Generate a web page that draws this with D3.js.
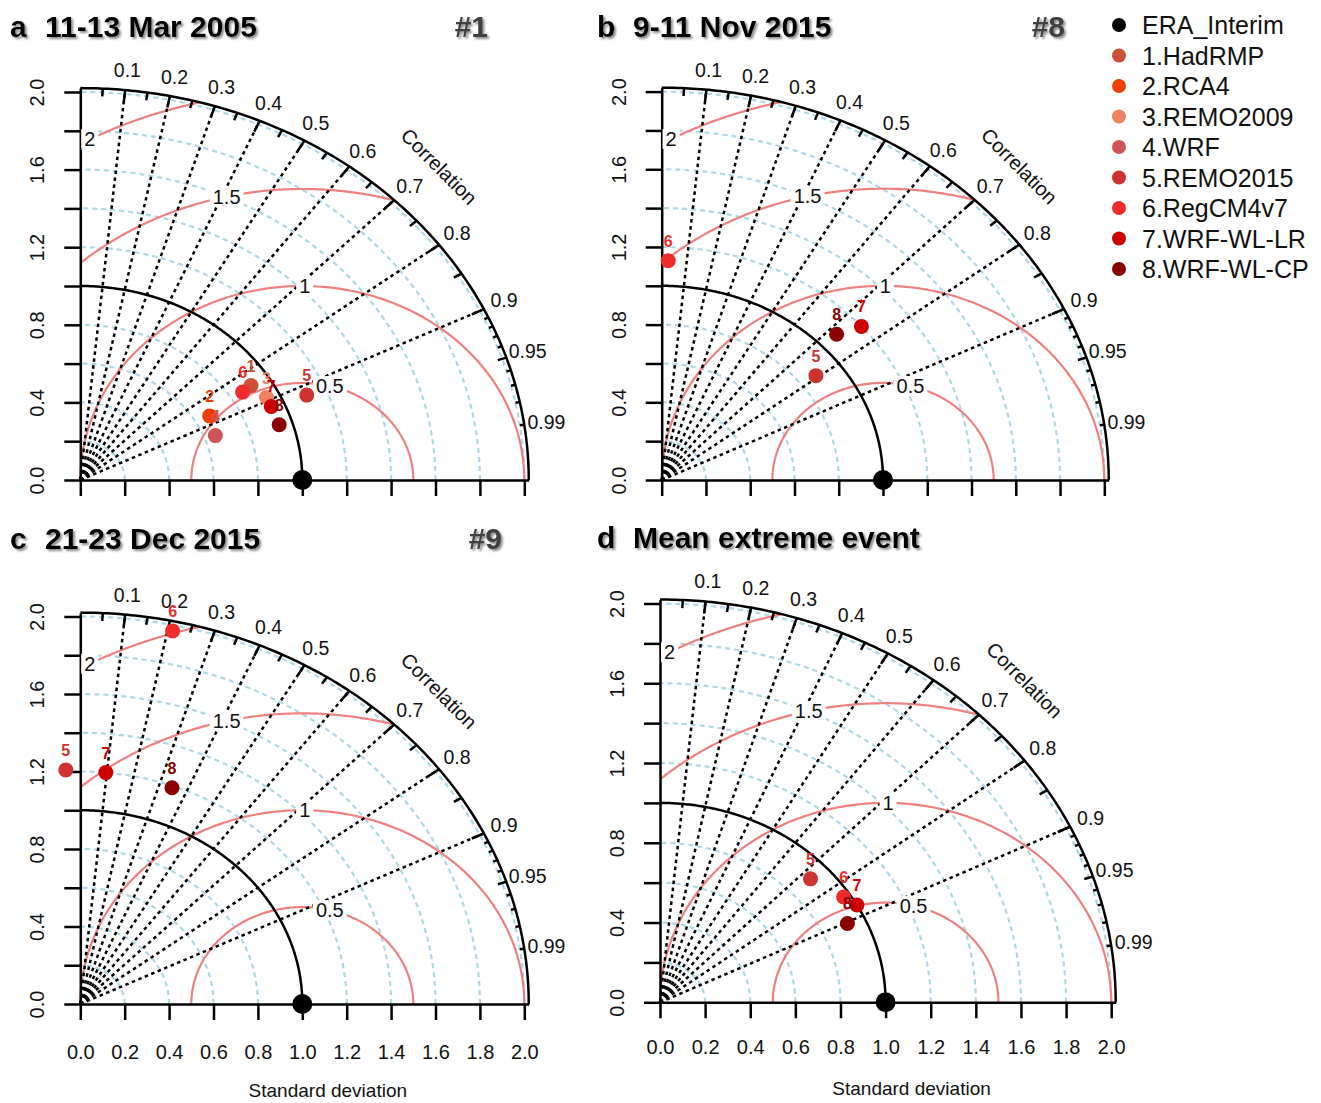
<!DOCTYPE html>
<html>
<head>
<meta charset="utf-8">
<script src="https://cdn.jsdelivr.net/npm/d3@7"></script>
<style>
  body { margin: 0; background: #fff; }
  svg { font-family: "Liberation Sans", Arial, Helvetica, sans-serif; }
  .axis path, .axis line { stroke: #000; stroke-width: 2.5; }
  .axis text { font-size: 20px; fill: #111; }
</style>
</head>
<body>
<svg id="chart" width="1321" height="1103"></svg>
<script>

// Models (legend order) and their colours
const refName = "ERA_Interim";
const models = ["1.HadRMP", "2.RCA4", "3.REMO2009", "4.WRF", "5.REMO2015", "6.RegCM4v7", "7.WRF-WL-LR", "8.WRF-WL-CP"];
const modelColors = ["#cd4f39", "#ee4000", "#ee8262", "#cd5555", "#cd3333", "#ee2c2c", "#cd0000", "#8b0000"];

// Panel titles
const panelLetters = ["a", "b", "c", "d"];
const panelTitles = ["11-13 Mar 2005", "9-11 Nov 2015", "21-23 Dec 2015", "Mean extreme event"];
const eventIds = ["#1", "#8", "#9", ""];

// Normalised standard deviation and correlation per model (null = model not run for this event)
const sdMar2005  = [0.91, 0.67, 0.94, 0.65, 1.11, 0.86, 0.94, 0.94];
const corMar2005 = [0.845, 0.87, 0.892, 0.936, 0.919, 0.85, 0.915, 0.953];
const sdNov2015  = [null, null, null, null, 0.88, 1.13, 1.20, 1.09];
const corNov2015 = [null, null, null, null, 0.792, 0.026, 0.752, 0.725];
const sdDec2015  = [null, null, null, null, 1.21, 1.97, 1.20, 1.19];
const corDec2015 = [null, null, null, null, -0.054, 0.211, 0.096, 0.347];
const sdMean     = [null, null, null, null, 0.91, 0.97, 1.00, 0.92];
const corMean    = [null, null, null, null, 0.733, 0.839, 0.873, 0.903];

// Reference (observations)
const refSd = 1.0;

// Diagram grid values
const sdTicks = [0, 0.2, 0.4, 0.6, 0.8, 1.0, 1.2, 1.4, 1.6, 1.8, 2.0];
const sdArcs = [0.2, 0.4, 0.6, 0.8, 1.2, 1.4, 1.6, 1.8, 2.0];
const rmsContours = [0.5, 1, 1.5, 2];
const corLines = [0.1, 0.2, 0.3, 0.4, 0.5, 0.6, 0.7, 0.8, 0.9];
const corLabels = [0.1, 0.2, 0.3, 0.4, 0.5, 0.6, 0.7, 0.8, 0.9, 0.95, 0.99];
const corMedTicks = [0.05, 0.15, 0.25, 0.35, 0.45, 0.55, 0.65, 0.75, 0.85, 0.95];
const corSmallTicks = [0.91, 0.92, 0.93, 0.94, 0.96, 0.97, 0.98, 0.99];

const MAXSD = 2.02;

const panelSd = [sdMar2005, sdNov2015, sdDec2015, sdMean];
const panelCor = [corMar2005, corNov2015, corDec2015, corMean];

// Where each panel sits on the page (the original was stretched, so x and y scales differ)
const layout = [
    {ox: 80.3,  oy: 480,    sx: 222,   sy: 194,    letterX: 10,  titleX: 45,  titleY: 37,  idX: 488,  xLabels: false, pad: 26},
    {ox: 661.7, oy: 480,    sx: 221.3, sy: 194.2,  letterX: 597, titleX: 633, titleY: 37,  idX: 1065, xLabels: false, pad: 26},
    {ox: 80.3,  oy: 1004,   sx: 222,   sy: 193.75, letterX: 10,  titleX: 45,  titleY: 549, idX: 502,  xLabels: true,  pad: 25},
    {ox: 660,   oy: 1002.3, sx: 225.6, sy: 199.4,  letterX: 597, titleX: 633, titleY: 548, idX: null, xLabels: true,  pad: 22}
];

const svg = d3.select("#chart");

// Soft grey shadow used by the panel titles
let shadow = svg.append("defs").append("filter")
    .attr("id", "shadow")
    .attr("x", "-10%").attr("y", "-30%")
    .attr("width", "130%").attr("height", "170%");
shadow.append("feDropShadow")
    .attr("dx", 2).attr("dy", 2)
    .attr("stdDeviation", 1.3)
    .attr("flood-color", "#666")
    .attr("flood-opacity", 0.75);

function drawPanel(p, k) {
    let sd = panelSd[k];
    let cor = panelCor[k];

    let x = d3.scaleLinear().domain([0, MAXSD]).range([p.ox, p.ox + MAXSD * p.sx]);
    let y = d3.scaleLinear().domain([0, MAXSD]).range([p.oy, p.oy - MAXSD * p.sy]);
    let line = d3.line().x(d => x(d[0])).y(d => y(d[1]));

    // arc of radius r around (cx, 0), angles in radians
    let arc = function(cx, r, a0, a1) {
        let pts = d3.range(0, 181).map(function(i) {
            let a = a0 + (a1 - a0) * i / 180;
            return [cx + r * Math.cos(a), r * Math.sin(a)];
        });
        return line(pts);
    };

    let g = svg.append("g").attr("class", "panel panel-" + panelLetters[k]);

    // Standard deviation grid arcs
    g.selectAll("path.sd-arc")
        .data(sdArcs)
        .enter()
        .append("path")
            .attr("class", "sd-arc")
            .attr("d", r => arc(0, r, 0, Math.PI / 2))
            .attr("fill", "none")
            .attr("stroke", "#add8e6")
            .attr("stroke-width", 2.2)
            .attr("stroke-dasharray", "5,4");

    // Centred RMS difference contours, clipped to the quadrant
    let rmsRange = function(gm) {
        let c0 = (MAXSD * MAXSD - refSd * refSd - gm * gm) / (2 * refSd * gm);
        let a0 = c0 >= 1 ? 0 : Math.acos(Math.max(-1, c0));
        let a1 = gm < refSd ? Math.PI : Math.acos(-refSd / gm);
        return [a0, a1];
    };
    g.selectAll("path.rms")
        .data(rmsContours)
        .enter()
        .append("path")
            .attr("class", "rms")
            .attr("d", gm => { let r = rmsRange(gm); return arc(refSd, gm, r[0], r[1]); })
            .attr("fill", "none")
            .attr("stroke", "#f08080")
            .attr("stroke-width", 2.2);

    // Correlation rays
    g.selectAll("path.cor-line")
        .data(corLines)
        .enter()
        .append("path")
            .attr("class", "cor-line")
            .attr("d", c => line([[0, 0], [MAXSD * c, MAXSD * Math.sqrt(1 - c * c)]]))
            .attr("stroke", "#000")
            .attr("stroke-width", 2.5)
            .attr("stroke-dasharray", "3.5,3.5");

    // Reference sd arc and outer arc
    g.append("path")
        .attr("d", arc(0, refSd, 0, Math.PI / 2))
        .attr("fill", "none").attr("stroke", "#000").attr("stroke-width", 2.5);
    g.append("path")
        .attr("d", arc(0, MAXSD, 0, Math.PI / 2))
        .attr("fill", "none").attr("stroke", "#000").attr("stroke-width", 2.5);

    // Tick marks on the outer arc
    let tickSets = [[corLines, 0.97], [corMedTicks, 0.98], [corSmallTicks, 0.99]];
    tickSets.forEach(function(ts) {
        g.selectAll(null)
            .data(ts[0])
            .enter()
            .append("path")
                .attr("d", function(c) {
                    let s = Math.sqrt(1 - c * c);
                    return line([[MAXSD * c, MAXSD * s], [MAXSD * ts[1] * c, MAXSD * ts[1] * s]]);
                })
                .attr("stroke", "#000")
                .attr("stroke-width", 2.5);
    });

    // Correlation labels
    g.selectAll("text.cor-label")
        .data(corLabels)
        .enter()
        .append("text")
            .attr("class", "cor-label")
            .attr("x", c => x(1.05 * MAXSD * c))
            .attr("y", c => y(1.05 * MAXSD * Math.sqrt(1 - c * c)))
            .attr("dy", "0.35em")
            .attr("text-anchor", "middle")
            .style("font-size", "19.5px")
            .attr("fill", "#111")
            .text(c => c);

    g.append("text")
        .attr("transform", "translate(" + x(0.8 * MAXSD) + "," + y(0.8 * MAXSD) + ") rotate(45)")
        .attr("dy", "0.35em")
        .attr("text-anchor", "middle")
        .style("font-size", "20px")
        .attr("fill", "#111")
        .text("Correlation");

    // Axes
    let fmt = d3.format(".1f");
    let xAxis = d3.axisBottom(x)
        .tickValues(sdTicks)
        .tickSize(16).tickSizeOuter(0)
        .tickPadding(p.pad)
        .tickFormat(d => p.xLabels ? fmt(d) : "");
    let yAxis = d3.axisLeft(y)
        .tickValues(sdTicks)
        .tickSize(16).tickSizeOuter(0)
        .tickFormat(d => Math.round(d * 10) % 4 === 0 ? fmt(d) : "");

    g.append("g")
        .attr("class", "x axis")
        .attr("transform", "translate(0," + p.oy + ")")
        .call(xAxis);

    let ya = g.append("g")
        .attr("class", "y axis")
        .attr("transform", "translate(" + p.ox + ",0)")
        .call(yAxis);
    ya.selectAll("text")
        .attr("x", 0)
        .attr("y", -43)
        .attr("dy", "0.35em")
        .attr("text-anchor", "middle")
        .attr("transform", "rotate(-90)");
    g.selectAll(".axis .domain").attr("fill", "none");

    if (p.xLabels) {
        g.append("text")
            .attr("x", x(1.115))
            .attr("y", p.oy + 93)
            .attr("text-anchor", "middle")
            .style("font-size", "19px")
            .attr("fill", "#111")
            .text("Standard deviation");
    }

    // RMS labels on a white box, as boxed.labels does
    let labelAngles = rmsContours.map((gm, i) => (Math.floor(45 + i * 25 / 3) - 1) * 0.03);
    rmsContours.forEach(function(gm, i) {
        let a = labelAngles[i];
        let lx = x(refSd + gm * Math.cos(a));
        let ly = y(gm * Math.sin(a));
        let lg = g.append("g");
        let t = lg.append("text")
            .attr("x", lx).attr("y", ly)
            .attr("dy", "0.35em")
            .attr("text-anchor", "middle")
            .style("font-size", "20px")
            .attr("fill", "#111")
            .text(gm);
        let bb = t.node().getBBox();
        lg.insert("rect", "text")
            .attr("x", bb.x - 3).attr("y", bb.y + 1)
            .attr("width", bb.width + 6).attr("height", bb.height - 2)
            .attr("fill", "#fff");
    });

    // Reference point
    g.append("circle")
        .attr("cx", x(refSd)).attr("cy", y(0))
        .attr("r", 10)
        .attr("fill", "#000");

    // Model points and their numbers
    let pts = models.map((m, i) => ({i: i, sd: sd[i], cor: cor[i]}))
        .filter(d => d.sd !== null);
    let px = d => x(d.sd * d.cor);
    let py = d => y(d.sd * Math.sqrt(1 - d.cor * d.cor));

    let pg = g.selectAll("g.model")
        .data(pts)
        .enter()
        .append("g")
            .attr("class", "model");
    pg.append("circle")
        .attr("cx", px).attr("cy", py)
        .attr("r", 7.5)
        .attr("fill", d => modelColors[d.i]);
    pg.append("text")
        .attr("x", px).attr("y", d => py(d) - 14)
        .attr("text-anchor", "middle")
        .style("font-size", "16px")
        .style("font-weight", "bold")
        .attr("fill", d => modelColors[d.i])
        .text(d => d.i + 1);

    // Title
    let tg = svg.append("g")
        .attr("class", "title")
        .attr("filter", "url(#shadow)")
        .style("font-weight", "bold")
        .style("font-size", "30px");
    tg.append("text")
        .attr("x", p.letterX).attr("y", p.titleY)
        .attr("fill", "#000")
        .text(panelLetters[k]);
    tg.append("text")
        .attr("x", p.titleX).attr("y", p.titleY)
        .attr("fill", "#000")
        .text(panelTitles[k]);
    if (p.idX !== null) {
        tg.append("text")
            .attr("x", p.idX).attr("y", p.titleY)
            .attr("text-anchor", "end")
            .attr("fill", "#404040")
            .text(eventIds[k]);
    }
}

layout.forEach(drawPanel);

// Legend
let legendNames = [refName].concat(models);
let legendColors = ["#000"].concat(modelColors);
let leg = svg.append("g").attr("class", "legend");
let rows = leg.selectAll("g")
    .data(legendNames)
    .enter()
    .append("g")
        .attr("transform", (d, i) => "translate(1119," + (25 + i * 30.5) + ")");
rows.append("circle")
    .attr("r", 7)
    .attr("fill", (d, i) => legendColors[i]);
rows.append("text")
    .attr("x", 23)
    .attr("dy", "0.36em")
    .style("font-size", "25px")
    .attr("fill", "#111")
    .text(d => d);

</script>
</body>
</html>
